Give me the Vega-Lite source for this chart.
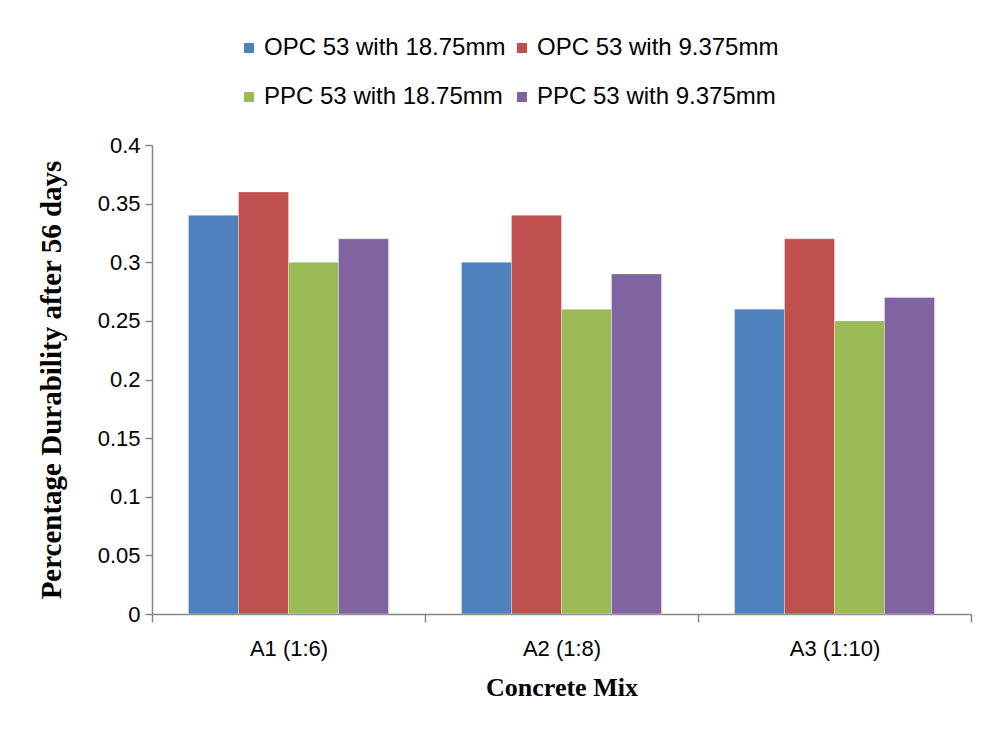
{
  "$schema": "https://vega.github.io/schema/vega-lite/v6.json",
  "autosize": "none",
  "width": 819,
  "height": 469,
  "padding": {"left": 152, "top": 145, "right": 18, "bottom": 116},
  "background": "white",
  "data": {
    "values": [
      {"mix": "A1 (1:6)", "series": "OPC 53 with 18.75mm", "value": 0.34},
      {"mix": "A1 (1:6)", "series": "OPC 53 with 9.375mm", "value": 0.36},
      {"mix": "A1 (1:6)", "series": "PPC 53 with 18.75mm", "value": 0.30},
      {"mix": "A1 (1:6)", "series": "PPC 53 with 9.375mm", "value": 0.32},
      {"mix": "A2 (1:8)", "series": "OPC 53 with 18.75mm", "value": 0.30},
      {"mix": "A2 (1:8)", "series": "OPC 53 with 9.375mm", "value": 0.34},
      {"mix": "A2 (1:8)", "series": "PPC 53 with 18.75mm", "value": 0.26},
      {"mix": "A2 (1:8)", "series": "PPC 53 with 9.375mm", "value": 0.29},
      {"mix": "A3 (1:10)", "series": "OPC 53 with 18.75mm", "value": 0.26},
      {"mix": "A3 (1:10)", "series": "OPC 53 with 9.375mm", "value": 0.32},
      {"mix": "A3 (1:10)", "series": "PPC 53 with 18.75mm", "value": 0.25},
      {"mix": "A3 (1:10)", "series": "PPC 53 with 9.375mm", "value": 0.27}
    ]
  },
  "mark": {"type": "bar", "stroke": "white", "strokeWidth": 0.5, "strokeOpacity": 0.6},
  "encoding": {
    "x": {
      "field": "mix",
      "type": "nominal",
      "sort": null,
      "scale": {"paddingInner": 0, "paddingOuter": 0},
      "axis": {
        "title": "Concrete Mix",
        "titleFont": "Liberation Serif",
        "titleFontSize": 26,
        "titleFontWeight": "bold",
        "titleColor": "black",
        "titlePadding": 15,
        "labelAngle": 0,
        "labelFont": "Liberation Sans",
        "labelFontSize": 22,
        "labelColor": "black",
        "labelPadding": 16,
        "tickBand": "extent",
        "tickSize": 8,
        "tickColor": "#868686",
        "domainColor": "#868686",
        "domainWidth": 1.5,
        "tickWidth": 1.5
      }
    },
    "xOffset": {
      "field": "series",
      "type": "nominal",
      "sort": null,
      "scale": {"paddingInner": 0, "paddingOuter": 0.73}
    },
    "y": {
      "field": "value",
      "type": "quantitative",
      "scale": {"domain": [0, 0.4], "nice": false},
      "axis": {
        "title": "Percentage Durability after 56 days",
        "titleFont": "Liberation Serif",
        "titleFontSize": 29,
        "titleFontWeight": "bold",
        "titleColor": "black",
        "titlePadding": 31,
        "values": [0, 0.05, 0.1, 0.15, 0.2, 0.25, 0.3, 0.35, 0.4],
        "format": "~g",
        "grid": false,
        "labelFont": "Liberation Sans",
        "labelFontSize": 22,
        "labelColor": "black",
        "labelPadding": 5,
        "tickSize": 7,
        "tickColor": "#868686",
        "domainColor": "#868686",
        "domainWidth": 1.5,
        "tickWidth": 1.5
      }
    },
    "color": {
      "field": "series",
      "type": "nominal",
      "sort": null,
      "scale": {
        "domain": ["OPC 53 with 18.75mm", "OPC 53 with 9.375mm", "PPC 53 with 18.75mm", "PPC 53 with 9.375mm"],
        "range": ["#4F81BD", "#C0504D", "#9BBB59", "#8064A2"]
      },
      "legend": {
        "title": null,
        "orient": "none",
        "legendX": 85,
        "legendY": -109,
        "direction": "horizontal",
        "columns": 2,
        "columnPadding": 4,
        "rowPadding": 25,
        "symbolType": "square",
        "symbolSize": 100,
        "symbolStrokeWidth": 0,
        "labelFont": "Liberation Sans",
        "labelFontSize": 24,
        "labelColor": "black",
        "labelOffset": 3,
        "labelLimit": 400,
        "padding": 0
      }
    }
  },
  "config": {"view": {"stroke": null}}
}
